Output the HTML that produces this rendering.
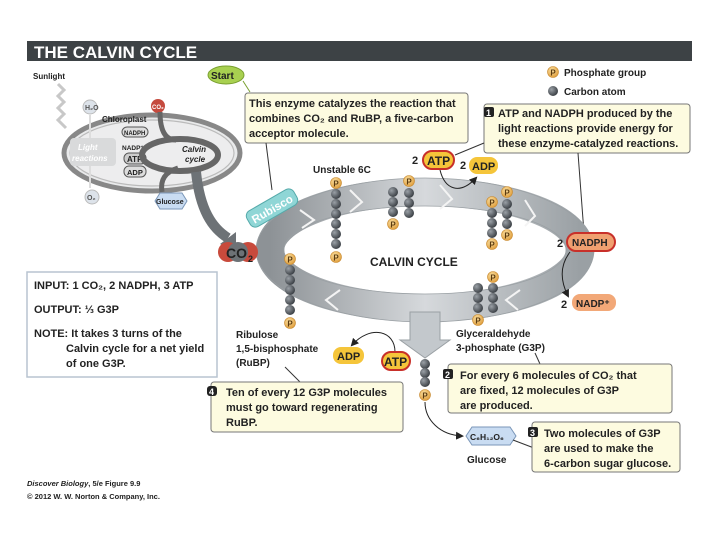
<!DOCTYPE html>
<html><head><meta charset="utf-8"><style>
html,body{margin:0;padding:0;background:#fff}
svg{display:block}
text{font-family:"Liberation Sans",sans-serif;font-weight:bold}
</style></head><body>
<svg width="720" height="540" viewBox="0 0 720 540" xmlns="http://www.w3.org/2000/svg">
<defs>
<radialGradient id="cg" cx="35%" cy="35%" r="65%"><stop offset="0" stop-color="#9aa0a6"/><stop offset="1" stop-color="#3e4348"/></radialGradient>
<radialGradient id="pg" cx="40%" cy="35%" r="65%"><stop offset="0" stop-color="#fbe0a0"/><stop offset="1" stop-color="#e0a040"/></radialGradient>
<linearGradient id="rg" x1="0" y1="0" x2="1" y2="0"><stop offset="0" stop-color="#8d9296"/><stop offset="0.5" stop-color="#d6d9dc"/><stop offset="1" stop-color="#9aa0a4"/></linearGradient>
<marker id="ah" markerWidth="8" markerHeight="8" refX="6" refY="4" orient="auto"><path d="M0,0 L8,4 L0,8 z" fill="#222"/></marker>
<g id="c"><circle r="5" fill="url(#cg)"/></g>
<g id="p"><circle r="5.5" fill="url(#pg)" stroke="#c88a30" stroke-width="0.6"/><text y="3.3" text-anchor="middle" font-size="8" fill="#5a3a10">P</text></g>
</defs>

<rect x="27" y="41" width="665" height="20" fill="#3d4245"/>
<text x="34" y="58" font-size="17" fill="#fff">THE CALVIN CYCLE</text>

<text x="33" y="79" font-size="8" fill="#222">Sunlight</text>
<path d="M58,84 l6,6 l-6,6 l6,6 l-6,6 l6,6 l-6,6 l8,8" fill="none" stroke="#c8c8c8" stroke-width="3"/>

<ellipse cx="152" cy="153" rx="88" ry="38" fill="#e9eaeb" stroke="#888" stroke-width="5"/>
<ellipse cx="152" cy="153" rx="82" ry="33" fill="#ededee" stroke="#bbb" stroke-width="1.2"/>
<circle cx="90" cy="107" r="7" fill="#dde3ea" stroke="#bbb"/><text x="85" y="110" font-size="7" fill="#555">H₂O</text>
<circle cx="92" cy="197" r="7" fill="#dde3ea" stroke="#bbb"/><text x="87" y="200" font-size="7" fill="#555">O₂</text>
<line x1="90" y1="115" x2="90" y2="188" stroke="#ddd" stroke-width="2"/>
<rect x="70" y="138" width="46" height="28" rx="4" fill="#d9dadb"/>
<text x="78" y="150" font-size="8" font-style="italic" fill="#fff">Light</text>
<text x="72" y="161" font-size="8" font-style="italic" fill="#fff">reactions</text>
<text x="102" y="122" font-size="8" fill="#222">Chloroplast</text>
<rect x="122" y="127" width="26" height="10" rx="5" fill="#ddd" stroke="#555"/><text x="124" y="135" font-size="6" fill="#222">NADPH</text>
<text x="122" y="150" font-size="6.5" fill="#222">NADP⁺</text>
<rect x="124" y="153" width="22" height="11" rx="5" fill="#ccc" stroke="#555"/><text x="127" y="162" font-size="8" fill="#222">ATP</text>
<rect x="124" y="166" width="22" height="11" rx="5" fill="#ddd" stroke="#555"/><text x="127" y="175" font-size="7.5" fill="#222">ADP</text>
<ellipse cx="180" cy="155" rx="38" ry="16" fill="none" stroke="#666" stroke-width="6"/>
<text x="182" y="152" font-size="8" font-style="italic" fill="#222">Calvin</text>
<text x="185" y="162" font-size="8" font-style="italic" fill="#222">cycle</text>
<circle cx="158" cy="106" r="7" fill="#c54a3e"/><text x="152" y="109" font-size="6" fill="#fff">CO₂</text>
<path d="M160,112 C160,130 165,140 176,140" fill="none" stroke="#666" stroke-width="5"/>
<path d="M178,168 C165,172 160,180 162,192" fill="none" stroke="#666" stroke-width="5"/>
<polygon points="155,201 160,193 182,193 187,201 182,209 160,209" fill="#c9dcf2" stroke="#7a96b8"/>
<text x="156" y="204" font-size="7" fill="#222">Glucose</text>
<path d="M196,172 C200,210 212,228 228,238" fill="none" stroke="#6d7276" stroke-width="10"/>
<polygon points="220,244 236,232 236,252" fill="#6d7276"/>

<ellipse cx="226" cy="75" rx="18" ry="9" fill="#a8d050" stroke="#7aa030"/>
<text x="211" y="79" font-size="10" fill="#222">Start</text>
<line x1="243" y1="81" x2="250" y2="92" stroke="#7aa030"/>

<rect x="245" y="93" width="223" height="50" rx="3" fill="#fdfbe0" stroke="#777"/>
<text font-size="11" fill="#222"><tspan x="249" y="107">This enzyme catalyzes the reaction that</tspan><tspan x="249" y="122">combines CO₂ and RuBP, a five-carbon</tspan><tspan x="249" y="137">acceptor molecule.</tspan></text>
<line x1="266" y1="143" x2="272" y2="190" stroke="#333"/>

<use href="#p" x="553" y="72"/><text x="564" y="76" font-size="10" fill="#222">Phosphate group</text>
<use href="#c" x="553" y="91"/><text x="564" y="95" font-size="10" fill="#222">Carbon atom</text>

<rect x="484" y="104" width="206" height="49" rx="3" fill="#fdfbe0" stroke="#777"/>
<rect x="484" y="107" width="10" height="10" rx="2" fill="#222"/><text x="486" y="116" font-size="9" fill="#fff">1</text>
<text font-size="11" fill="#222"><tspan x="498" y="117">ATP and NADPH produced by the</tspan><tspan x="498" y="132">light reactions provide energy for</tspan><tspan x="498" y="147">these enzyme-catalyzed reactions.</tspan></text>
<line x1="484" y1="143" x2="455" y2="155" stroke="#333"/>
<line x1="578" y1="153" x2="584" y2="233" stroke="#333"/>

<ellipse cx="425" cy="250" rx="155" ry="58" fill="none" stroke="url(#rg)" stroke-width="28"/>
<ellipse cx="425" cy="250" rx="169" ry="72" fill="none" stroke="#9aa0a4" stroke-width="0.8"/>
<ellipse cx="425" cy="250" rx="141" ry="44" fill="none" stroke="#9aa0a4" stroke-width="0.8"/>
<path d="M300,210 l14,10 l-12,8 M350,190 l12,12 l-12,10 M440,185 l12,14 l-12,10 M525,200 l10,16 l-10,10" fill="none" stroke="#f4f4f4" stroke-width="2"/>
<path d="M520,290 l-14,10 l12,10 M340,290 l-14,10 l12,10" fill="none" stroke="#f4f4f4" stroke-width="2"/>
<path d="M410,312 L410,340 L400,340 L425,358 L450,340 L440,340 L440,312 z" fill="#c3c8cc" stroke="#9aa0a4"/>
<text x="370" y="266" font-size="12" fill="#222">CALVIN CYCLE</text>

<g transform="translate(272,208) rotate(-30)"><rect x="-27" y="-9" width="54" height="18" rx="6" fill="#8fd6d6" stroke="#5aa"/><text x="-23" y="5" font-size="11.5" fill="#fff">Rubisco</text></g>

<circle cx="228" cy="252" r="10" fill="#c84a3c"/><circle cx="248" cy="252" r="10" fill="#c84a3c"/><circle cx="238" cy="252" r="10" fill="#6d7276"/>
<text x="226" y="258" font-size="14" fill="#222">CO</text><text x="248" y="262" font-size="9" fill="#222">2</text>

<text x="313" y="173" font-size="10" fill="#222">Unstable 6C</text>
<use href="#p" x="336" y="183"/><use href="#c" x="336" y="194"/><use href="#c" x="336" y="204"/><use href="#c" x="336" y="214"/><use href="#c" x="336" y="224"/><use href="#c" x="336" y="234"/><use href="#c" x="336" y="244"/><use href="#p" x="336" y="257"/>
<use href="#c" x="393" y="192"/><use href="#c" x="393" y="202"/><use href="#c" x="393" y="212"/><use href="#p" x="393" y="224"/>
<use href="#p" x="409" y="181"/><use href="#c" x="409" y="193"/><use href="#c" x="409" y="203"/><use href="#c" x="409" y="213"/>
<use href="#p" x="492" y="202"/><use href="#c" x="492" y="213"/><use href="#c" x="492" y="223"/><use href="#c" x="492" y="233"/><use href="#p" x="492" y="244"/>
<use href="#p" x="507" y="192"/><use href="#c" x="507" y="204"/><use href="#c" x="507" y="214"/><use href="#c" x="507" y="224"/><use href="#p" x="507" y="235"/>
<use href="#p" x="493" y="277"/><use href="#c" x="478" y="288"/><use href="#c" x="478" y="298"/><use href="#c" x="478" y="308"/><use href="#c" x="493" y="288"/><use href="#c" x="493" y="298"/><use href="#c" x="493" y="308"/><use href="#p" x="478" y="320"/>
<use href="#p" x="290" y="259"/><use href="#c" x="290" y="270"/><use href="#c" x="290" y="280"/><use href="#c" x="290" y="290"/><use href="#c" x="290" y="300"/><use href="#c" x="290" y="310"/><use href="#p" x="290" y="323"/>
<use href="#c" x="425" y="364"/><use href="#c" x="425" y="373"/><use href="#c" x="425" y="382"/><use href="#p" x="425" y="395"/>

<path d="M440,170 C445,190 460,195 476,178" fill="none" stroke="#222" marker-end="url(#ah)"/>
<text x="412" y="164" font-size="11" fill="#222">2</text>
<rect x="423" y="151" width="31" height="18" rx="9" fill="#f5c53a" stroke="#c8302a" stroke-width="2"/><text x="427" y="165" font-size="12" fill="#222">ATP</text>
<text x="460" y="169" font-size="11" fill="#222">2</text>
<rect x="469" y="157" width="29" height="17" rx="8" fill="#f5c53a"/><text x="472" y="170" font-size="11" fill="#222">ADP</text>
<path d="M570,252 C560,265 560,280 568,296" fill="none" stroke="#222" marker-end="url(#ah)"/>
<text x="557" y="247" font-size="11" fill="#222">2</text>
<rect x="567" y="233" width="48" height="18" rx="9" fill="#f0a070" stroke="#c8302a" stroke-width="2"/><text x="572" y="246" font-size="10" fill="#222">NADPH</text>
<text x="561" y="308" font-size="11" fill="#222">2</text>
<rect x="572" y="294" width="44" height="17" rx="8" fill="#f2a878"/><text x="576" y="307" font-size="10" fill="#222">NADP⁺</text>

<text font-size="10" fill="#222"><tspan x="236" y="338">Ribulose</tspan><tspan x="236" y="352">1,5-bisphosphate</tspan><tspan x="236" y="366">(RuBP)</tspan></text>
<path d="M395,352 C395,330 370,325 352,345" fill="none" stroke="#222" marker-end="url(#ah)"/>
<rect x="333" y="347" width="31" height="17" rx="8" fill="#f5c53a"/><text x="337" y="360" font-size="11" fill="#222">ADP</text>
<rect x="382" y="352" width="28" height="18" rx="9" fill="#f5c53a" stroke="#c8302a" stroke-width="2"/><text x="384" y="366" font-size="12" fill="#222">ATP</text>
<text font-size="10" fill="#222"><tspan x="456" y="337">Glyceraldehyde</tspan><tspan x="456" y="351">3-phosphate (G3P)</tspan></text>
<line x1="285" y1="367" x2="300" y2="382" stroke="#333"/>
<line x1="535" y1="353" x2="540" y2="364" stroke="#333"/>

<rect x="27" y="272" width="190" height="105" fill="#fff" stroke="#b8c4d0" stroke-width="1.5"/>
<text font-size="11" fill="#222"><tspan x="34" y="289">INPUT: 1 CO₂, 2 NADPH, 3 ATP</tspan><tspan x="34" y="313">OUTPUT: ⅓ G3P</tspan><tspan x="34" y="337">NOTE: It takes 3 turns of the</tspan><tspan x="66" y="352">Calvin cycle for a net yield</tspan><tspan x="66" y="367">of one G3P.</tspan></text>

<rect x="211" y="382" width="192" height="50" rx="3" fill="#fdfbe0" stroke="#777"/>
<rect x="207" y="386" width="10" height="10" rx="3" fill="#222"/><text x="209" y="395" font-size="9" fill="#fff">4</text>
<text font-size="11" fill="#222"><tspan x="226" y="396">Ten of every 12 G3P molecules</tspan><tspan x="226" y="411">must go toward regenerating</tspan><tspan x="226" y="426">RuBP.</tspan></text>

<rect x="448" y="364" width="224" height="49" rx="3" fill="#fdfbe0" stroke="#777"/>
<rect x="443" y="369" width="10" height="10" rx="2" fill="#222"/><text x="445" y="378" font-size="9" fill="#fff">2</text>
<text font-size="11" fill="#222"><tspan x="460" y="379">For every 6 molecules of CO₂ that</tspan><tspan x="460" y="394">are fixed, 12 molecules of G3P</tspan><tspan x="460" y="409">are produced.</tspan></text>

<path d="M425,402 C425,420 440,435 462,436" fill="none" stroke="#222" marker-end="url(#ah)"/>
<polygon points="466,436 472,427 510,427 516,436 510,445 472,445" fill="#c9dcf2" stroke="#7a96b8"/>
<text x="470" y="440" font-size="8.5" fill="#222">C₆H₁₂O₆</text>
<text x="467" y="463" font-size="10" fill="#222">Glucose</text>
<line x1="513" y1="440" x2="534" y2="448" stroke="#333"/>
<rect x="532" y="422" width="148" height="50" rx="3" fill="#fdfbe0" stroke="#777"/>
<rect x="528" y="427" width="10" height="10" rx="2" fill="#222"/><text x="530" y="436" font-size="9" fill="#fff">3</text>
<text font-size="11" fill="#222"><tspan x="544" y="437">Two molecules of G3P</tspan><tspan x="544" y="452">are used to make the</tspan><tspan x="544" y="467">6-carbon sugar glucose.</tspan></text>

<text x="27" y="486" font-size="7.5" fill="#222"><tspan font-style="italic">Discover Biology</tspan>, 5/e  Figure 9.9</text>
<text x="27" y="499" font-size="7.5" fill="#222">© 2012 W. W. Norton &amp; Company, Inc.</text>
</svg>
</body></html>
